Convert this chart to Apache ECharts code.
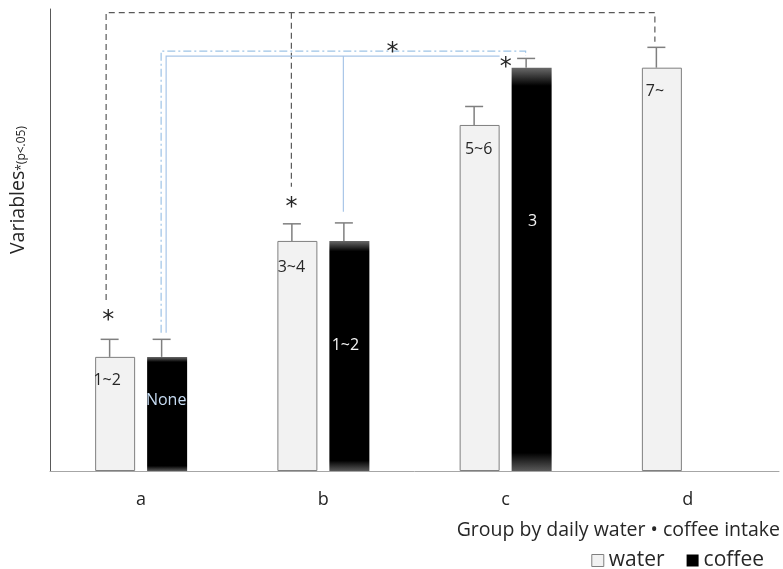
<!DOCTYPE html>
<html>
<head>
<meta charset="utf-8">
<script src="https://cdn.jsdelivr.net/npm/echarts@6/dist/echarts.min.js"></script>
<style>
html,body{margin:0;padding:0;background:#fff;}
#main{width:783px;height:569px;}
</style>
</head>
<body>
<div id="main"></div>
<script>
// ---- data ----
var categories = ['a', 'b', 'c', 'd'];
var waterValues = [24.7, 49.8, 74.9, 87.3];
var coffeeValues = [24.7, 49.8, 87.3, null];
var waterErr = [3.8, 3.7, 4.0, 4.4];
var coffeeErr = [3.8, 3.9, 2.0, null];
var waterLabels = ['1~2', '3~4', '5~6', '7~'];
var coffeeLabels = ['None', '1~2', '3', ''];
var seriesNames = ['water', 'coffee'];
var xTitle = 'Group by daily water \u2022 coffee intake';
var yTitle = 'Variables';
var ySubTitle = '*(p<.05)';

// ---- styles ----
var FONT = '"Open Sans", "Noto Sans", sans-serif';
var BAR_W = 40, HALF_SHIFT = 26; // bar center offset from category center
var waterLabelOffsets = [[-8, 22], [-6, 25], [-1, 23], [-7, 22]];
var coffeeLabelOffsets = [[-1, 42], [-4, 103], [1, 152], [0, 0]];

function labelFor(text, off, color) {
  return {
    show: text !== '',
    formatter: text,
    position: 'insideTop',
    distance: 0,
    offset: [off[0], off[1] - 6.5],
    color: color,
    fontSize: 16,
    fontFamily: FONT
  };
}

var waterData = waterValues.map(function (v, i) {
  return { value: v, label: labelFor(waterLabels[i], waterLabelOffsets[i], '#262626') };
});
var coffeeData = coffeeValues.map(function (v, i) {
  return { value: v, label: labelFor(coffeeLabels[i], coffeeLabelOffsets[i], i === 0 ? '#c6dbf2' : '#f4f4f4') };
});

var coffeeGradient = new echarts.graphic.LinearGradient(0, 0, 0, 1, [
  { offset: 0, color: '#6a6a6a' },
  { offset: 0.045, color: '#000000' },
  { offset: 0.955, color: '#000000' },
  { offset: 1, color: '#5a5a5a' }
]);

// error bars: [catIndex, value, err, seriesIdx]
var errData = [];
waterValues.forEach(function (v, i) { if (v != null && waterErr[i] != null) errData.push([i, v, waterErr[i], 0]); });
coffeeValues.forEach(function (v, i) { if (v != null && coffeeErr[i] != null) errData.push([i, v, coffeeErr[i], 1]); });

function renderErr(params, api) {
  var idx = api.value(0), v = api.value(1), e = api.value(2), s = api.value(3);
  var base = api.coord([idx, v]);
  var top = api.coord([idx, v + e]);
  var x = base[0] + (s === 0 ? -HALF_SHIFT : HALF_SHIFT) - 5.5;
  var style = { stroke: '#7f7f7f', lineWidth: 1.5 };
  return {
    type: 'group',
    children: [
      { type: 'line', shape: { x1: x, y1: top[1], x2: x, y2: base[1] }, style: style },
      { type: 'line', shape: { x1: x - 9, y1: top[1], x2: x + 9, y2: top[1] }, style: style }
    ]
  };
}

// significance brackets: points as [catIndex, seriesSide(-1 water / +1 coffee), px offset, value]
var brackets = [
  { pts: [[0, -1, -9, 37.0], [0, -1, -9, 99.2], [3, -1, -7, 99.2], [3, -1, -7, 92.9]], stroke: '#595959', dash: [6, 4] },
  { pts: [[1, -1, -6, 99.2], [1, -1, -6, 61.5]], stroke: '#595959', dash: [6, 4] },
  { pts: [[0, 1, -6, 29.9], [0, 1, -6, 90.9], [2, 1, -6, 90.9], [2, 1, -6, 89.8]], stroke: '#9dc3e6', dash: [8, 3, 2, 3] },
  { pts: [[0, 1, -1, 29.9], [0, 1, -1, 89.8], [2, -1, 20, 89.8]], stroke: '#a9c6e8', dash: null },
  { pts: [[1, 1, -6, 89.8], [1, 1, -6, 56.1]], stroke: '#a9c6e8', dash: null }
];
var stars = [[0, -1, -7, 33.7], [1, -1, -6, 58.0], [1, 1, 43, 91.6], [2, 1, -26, 88.3]];

function renderBrackets(params, api) {
  function pt(p) {
    var c = api.coord([p[0], p[3]]);
    return [c[0] + p[1] * HALF_SHIFT + p[2], c[1]];
  }
  var children = [];
  brackets.forEach(function (b) {
    children.push({
      type: 'polyline',
      shape: { points: b.pts.map(pt) },
      style: { stroke: b.stroke, lineWidth: 1.2, lineDash: b.dash, fill: null }
    });
  });
  stars.forEach(function (s) {
    var p = pt(s);
    children.push({
      type: 'text',
      x: p[0], y: p[1] + 5,
      style: { text: '*', fontSize: 24, fontFamily: '"DejaVu Sans", sans-serif', fill: '#262626', align: 'center', verticalAlign: 'middle' }
    });
  });
  return { type: 'group', children: children };
}

var chart = echarts.init(document.getElementById('main'), null, { renderer: 'canvas' });
chart.setOption({
  animation: false,
  backgroundColor: '#ffffff',
  textStyle: { fontFamily: FONT },
  grid: { left: 50, right: 3, top: 9, bottom: 98, containLabel: false },
  legend: {
    data: [
      { name: seriesNames[0], itemStyle: { color: '#f2f2f2', borderColor: '#7f7f7f', borderWidth: 1 } },
      { name: seriesNames[1], itemStyle: { color: '#000000' } }
    ],
    right: 14, top: 545,
    icon: 'rect', itemWidth: 12, itemHeight: 12, itemGap: 22,
    textStyle: { fontSize: 21, color: '#262626', fontFamily: FONT }
  },
  xAxis: {
    type: 'category',
    data: categories,
    axisLine: { lineStyle: { color: '#a6a6a6', width: 1 } },
    axisTick: { show: false },
    axisLabel: { fontSize: 18, color: '#262626', margin: 20, fontFamily: FONT },
    name: xTitle,
    nameLocation: 'end',
    nameGap: 1,
    nameTextStyle: { fontSize: 19.5, color: '#262626', align: 'right', verticalAlign: 'top', padding: [49, 0, 0, 0], fontFamily: FONT }
  },
  yAxis: {
    type: 'value',
    min: 0, max: 100,
    axisLine: { show: true, lineStyle: { color: '#595959', width: 1 } },
    axisTick: { show: false },
    axisLabel: { show: false },
    splitLine: { show: false },
    name: '{a|' + yTitle + '}{b|' + ySubTitle + '}',
    nameLocation: 'middle',
    nameGap: 22,
    nameTextStyle: {
      padding: [0, 0, 0, 100],
      rich: {
        a: { fontSize: 19.5, color: '#262626', fontFamily: FONT, verticalAlign: 'bottom' },
        b: { fontSize: 12, color: '#262626', fontFamily: FONT, verticalAlign: 'bottom' }
      }
    }
  },
  series: [
    {
      name: seriesNames[0], type: 'bar', barWidth: BAR_W, barGap: '30%',
      itemStyle: { color: '#f2f2f2', borderColor: '#7f7f7f', borderWidth: 1 },
      data: waterData
    },
    {
      name: seriesNames[1], type: 'bar', barWidth: BAR_W, barGap: '30%',
      itemStyle: { color: coffeeGradient },
      data: coffeeData
    },
    {
      type: 'custom', name: 'err', renderItem: renderErr, data: errData, z: 3, silent: true,
      encode: { x: 0, y: 1 }
    },
    {
      type: 'custom', name: 'brackets', renderItem: renderBrackets, data: [[0, 0]], z: 4, silent: true,
      encode: { x: 0, y: 1 }
    }
  ]
});
</script>
</body>
</html>
